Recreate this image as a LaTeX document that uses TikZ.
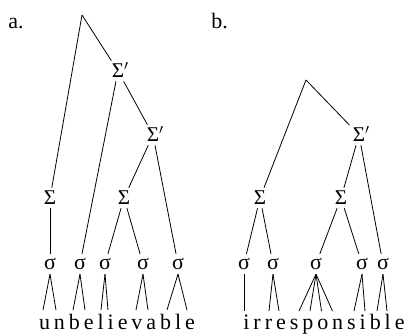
\documentclass[tikz,border=0pt]{standalone}
\usepackage{fontspec}
\setmainfont{Liberation Serif}
\newcommand\treefont{\fontsize{22}{26}\selectfont}
\newcommand\footfont{\fontsize{21}{25}\selectfont}
\newcommand\wordfont{\fontsize{22}{26}\selectfont\addfontfeature{LetterSpace=18}}

\begin{document}
\begin{tikzpicture}[x=1pt, y=-1pt, line width=0.8pt,
    tag/.style={font=\treefont, inner sep=0pt},
    foot/.style={font=\footfont, inner sep=3pt},
    syl/.style={font=\treefont, inner sep=4pt},
    word/.style={font=\wordfont, inner sep=0pt, anchor=base}]
    \useasboundingbox (0,0) rectangle (408,336);

    % Panel labels
    \node[tag, anchor=base west] (taga) at (8,29) {a.};
    \node[tag, anchor=base west] (tagb) at (211,29) {b.};

    % Tree a: feet
    \coordinate (ra) at (82,15);
    \node[foot] (pa1) at (118,71) {Σ\rlap{\smash{$'$}}};
    \node[foot] (pa2) at (153,135) {Σ\rlap{\smash{$'$}}};
    \node[foot] (fa1) at (50,198) {Σ};
    \node[foot] (fa2) at (124,198) {Σ};
    \foreach \n/\x in {1/50, 2/80, 3/105, 4/143, 5/178}
        \node[syl] (sa\n) at (\x,264) {σ};
    \draw (ra) -- (fa1);
    \draw (ra) -- (pa1);
    \draw (pa1) -- (sa2);
    \draw (pa1) -- (pa2);
    \draw (pa2) -- (fa2);
    \draw (pa2) -- (sa5);
    \draw (fa1) -- (sa1);
    \draw (fa2) -- (sa3);
    \draw (fa2) -- (sa4);

    % Tree a: segments
    \foreach \s/\x [count=\i] in {1/43, 1/56, 2/73, 2/85, 3/101, 3/108, 4/136, 4/148, 5/167, 5/187} {
        \coordinate (ea\i) at (\x,310);
        \draw (sa\s.south) -- (ea\i);
    }
    \node[word] (wa) at (117,330) {unbelievable};

    % Tree b: feet
    \coordinate (rb) at (306,80);
    \node[foot] (pb1) at (359,135) {Σ\rlap{\smash{$'$}}};
    \node[foot] (fb1) at (260,198) {Σ};
    \node[foot] (fb2) at (341,198) {Σ};
    \foreach \n/\x in {1/244, 2/273, 3/316, 4/362, 5/383}
        \node[syl] (sb\n) at (\x,264) {σ};
    \draw (rb) -- (fb1);
    \draw (rb) -- (pb1);
    \draw (pb1) -- (fb2);
    \draw (pb1) -- (sb5);
    \draw (fb1) -- (sb1);
    \draw (fb1) -- (sb2);
    \draw (fb2) -- (sb3);
    \draw (fb2) -- (sb4);

    % Tree b: segments
    \foreach \s/\x [count=\i] in {1/244, 2/269, 2/279, 3/299, 3/310, 3/321.5, 3/332.5, 4/354, 4/365, 5/377, 5/387} {
        \coordinate (eb\i) at (\x,311);
        \draw (sb\s.south) -- (eb\i);
    }
    \node[word] (wb) at (324,330) {irresponsible};
\end{tikzpicture}
\end{document}
